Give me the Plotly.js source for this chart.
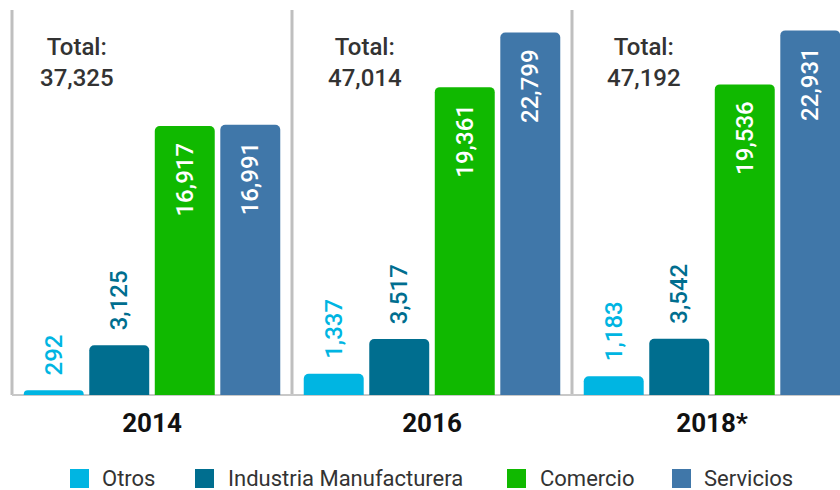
<!DOCTYPE html>
<html><head><meta charset="utf-8">
<script src="https://cdn.plot.ly/plotly-3.0.1.min.js"></script>
<style>html,body{margin:0;padding:0;overflow:hidden;background:#fff}</style>
</head><body><div id="chart"></div>
<script>
// ---- data ----
const years = ['2014', '2016', '2018*'];
const seriesNames = ['Otros', 'Industria Manufacturera', 'Comercio', 'Servicios'];
const otros = [292, 1337, 1183];
const industria = [3125, 3517, 3542];
const comercio = [16917, 19361, 19536];
const servicios = [16991, 22799, 22931];
const totals = [37325, 47014, 47192];

// ---- styles ----
const colors = ['#00b5e2', '#006e8f', '#10b900', '#4077a9'];
const seriesValues = [otros, industria, comercio, servicios];
const labelInside = [false, false, true, true];
const FONT = 'Roboto, sans-serif';

const W = 880, H = 490, ML = 0, MR = 0, MT = 10, MB = 95;
const PLOT_H = H - MT - MB;           // 385
const BASE_PX = H - MB;               // 395
const CAT_PX = 280, LEFT_PX = 12;
const xmin = -0.5 - LEFT_PX / CAT_PX;
const xmax = xmin + (W - ML - MR) / CAT_PX;
const px2paperX = px => (px - ML) / (W - ML - MR);
const px2paperY = py => (BASE_PX - py) / PLOT_H;
const totalShift = [-75, -67, -68];

const traces = seriesValues.map((vals, i) => ({
  type: 'bar', x: years, y: vals, name: seriesNames[i],
  marker: {color: colors[i], cornerradius: 5},
  texttemplate: labelInside[i] ? '%{y:,}\u00a0\u00a0' : '\u00a0\u00a0%{y:,}',
  textposition: labelInside[i] ? 'inside' : 'outside',
  insidetextanchor: 'end',
  textangle: -90,
  textfont: {family: FONT, size: 24, weight: 500, color: labelInside[i] ? '#ffffff' : colors[i]},
  constraintext: 'none', cliponaxis: false, showlegend: false, hoverinfo: 'skip'
}));

const shapes = [];
// group separators
for (let k = 0; k <= years.length; k++) {
  shapes.push({type: 'line', xref: 'x', yref: 'paper', x0: k - 0.5, x1: k - 0.5, y0: 0, y1: 1,
    line: {color: '#bfbfbf', width: 3}, layer: 'below'});
}
// baseline
shapes.push({type: 'line', xref: 'x', yref: 'paper', x0: -0.5, x1: xmax, y0: 0, y1: 0,
  line: {color: '#c8c8c8', width: 2}, layer: 'below'});

const annotations = [];
totals.forEach((t, i) => {
  annotations.push({xref: 'x', yref: 'paper', x: i, xshift: totalShift[i], y: px2paperY(62),
    xanchor: 'center', yanchor: 'middle', showarrow: false, align: 'center',
    text: 'Total:<br>' + t.toLocaleString('en-US'),
    font: {family: FONT, size: 24, color: '#333333', weight: 500}});
});

// legend (manual)
const legSquareLeft = [70, 195, 507, 672];
const legTextLeft = [102, 228, 540, 704];
const LEG_TOP = 469, LEG_SIZE = 19;
seriesNames.forEach((n, i) => {
  shapes.push({type: 'rect', xref: 'paper', yref: 'paper',
    x0: px2paperX(legSquareLeft[i]), x1: px2paperX(legSquareLeft[i] + LEG_SIZE),
    y0: px2paperY(LEG_TOP + LEG_SIZE), y1: px2paperY(LEG_TOP),
    fillcolor: colors[i], line: {width: 0}});
  annotations.push({xref: 'paper', yref: 'paper', x: px2paperX(legTextLeft[i] - 2),
    y: px2paperY(LEG_TOP + LEG_SIZE / 2), xanchor: 'left', yanchor: 'middle',
    showarrow: false, text: n, font: {family: FONT, size: 22, color: '#333333'}});
});

const layout = {
  width: W, height: H, margin: {l: ML, r: MR, t: MT, b: MB, pad: 0},
  paper_bgcolor: '#ffffff', plot_bgcolor: '#ffffff',
  barmode: 'group', bargap: 0.064, bargroupgap: 0.085,
  xaxis: {type: 'category', range: [xmin, xmax], showline: false, ticks: '',
    tickfont: {family: FONT, size: 26, color: '#111111', weight: 'bold'},
    ticklabelstandoff: 10, showgrid: false, zeroline: false, fixedrange: true},
  yaxis: {range: [0, 24214], visible: false, fixedrange: true},
  shapes: shapes, annotations: annotations, showlegend: false
};

Plotly.newPlot('chart', traces, layout, {displayModeBar: false, staticPlot: true});
</script>
</body></html>
